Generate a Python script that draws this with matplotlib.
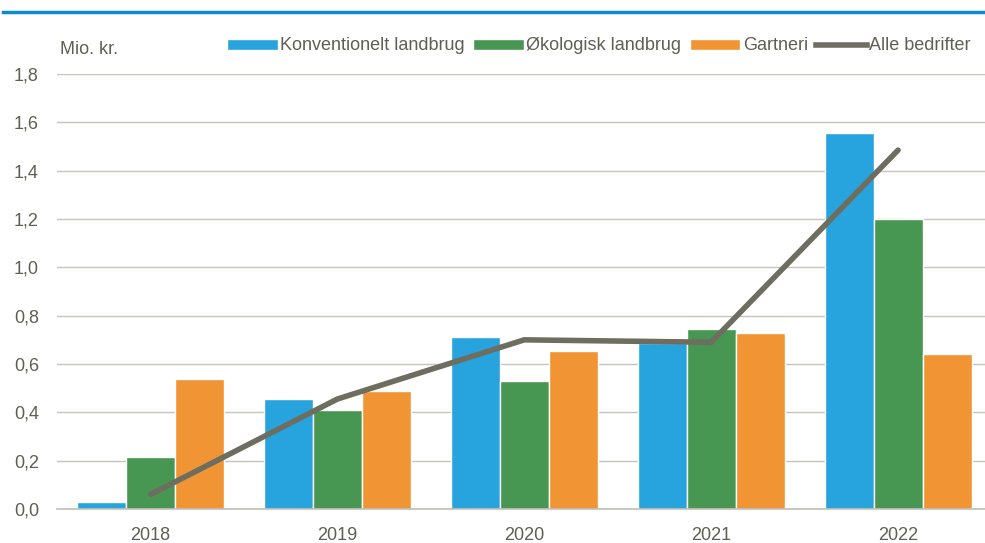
import numpy as np
import matplotlib.pyplot as plt
from matplotlib.patches import Patch
from matplotlib.lines import Line2D

years = ["2018", "2019", "2020", "2021", "2022"]
konventionelt = [0.03, 0.455, 0.71, 0.687, 1.555]
oekologisk = [0.215, 0.41, 0.53, 0.745, 1.20]
gartneri = [0.54, 0.49, 0.655, 0.728, 0.64]
alle = [0.06, 0.455, 0.70, 0.69, 1.485]

c_blue = "#27a3dd"
c_green = "#479652"
c_orange = "#f19433"
c_line = "#6e6e60"
c_text = "#5f5f55"

plt.rcParams["font.family"] = ["Liberation Sans", "DejaVu Sans"]

fig = plt.figure(figsize=(9.85, 5.43), dpi=100)
ax = fig.add_axes([57 / 985, 34 / 543, 934.5 / 985, 435 / 543])

x = np.arange(len(years))
w = 0.262
ax.bar(x - w, konventionelt, w, color=c_blue, edgecolor="white", linewidth=1, zorder=2)
ax.bar(x, oekologisk, w, color=c_green, edgecolor="white", linewidth=1, zorder=2)
ax.bar(x + w, gartneri, w, color=c_orange, edgecolor="white", linewidth=1, zorder=2)
ax.plot(x, alle, color=c_line, lw=4, zorder=3, solid_capstyle="round")

ax.set_xlim(-0.5, len(years) - 0.5)
ax.set_ylim(0, 1.8)
yt = np.arange(0, 1.81, 0.2)
ax.set_yticks(yt)
ax.set_yticklabels([f"{v:.1f}".replace(".", ",") for v in yt])
ax.set_xticks(x)
ax.set_xticklabels(years)
ax.tick_params(axis="both", length=0, labelsize=13, colors=c_text)
ax.tick_params(axis="y", pad=13)
ax.tick_params(axis="x", pad=13)
ax.grid(axis="y", color="#c4c4bb", lw=1, zorder=0)
ax.set_axisbelow(True)
for s in ["top", "right", "left"]:
    ax.spines[s].set_visible(False)
ax.spines["bottom"].set_color("#c0c0b8")
ax.spines["bottom"].set_linewidth(1.2)

fig.add_artist(Line2D([3 / 985, 1.0], [1 - 12 / 543, 1 - 12 / 543],
                      color="#0b8bd0", lw=2.5))
fig.text(60 / 985, 1 - 50 / 543, "Mio. kr.", fontsize=13, color=c_text, va="center")

handles = [
    Patch(facecolor=c_blue, edgecolor="white"),
    Patch(facecolor=c_green, edgecolor="white"),
    Patch(facecolor=c_orange, edgecolor="white"),
    Line2D([0], [0], color=c_line, lw=4),
]
labels = ["Konventionelt landbrug", "Økologisk landbrug", "Gartneri", "Alle bedrifter"]
leg = fig.legend(handles, labels, loc="center right", bbox_to_anchor=(978 / 985, 1 - 46 / 543),
                 ncol=4, frameon=False, fontsize=13, handlelength=2.8, handleheight=0.55,
                 handletextpad=0.15, columnspacing=0.45, borderaxespad=0)
for t in leg.get_texts():
    t.set_color(c_text)

fig.savefig("out.png", dpi=100)
